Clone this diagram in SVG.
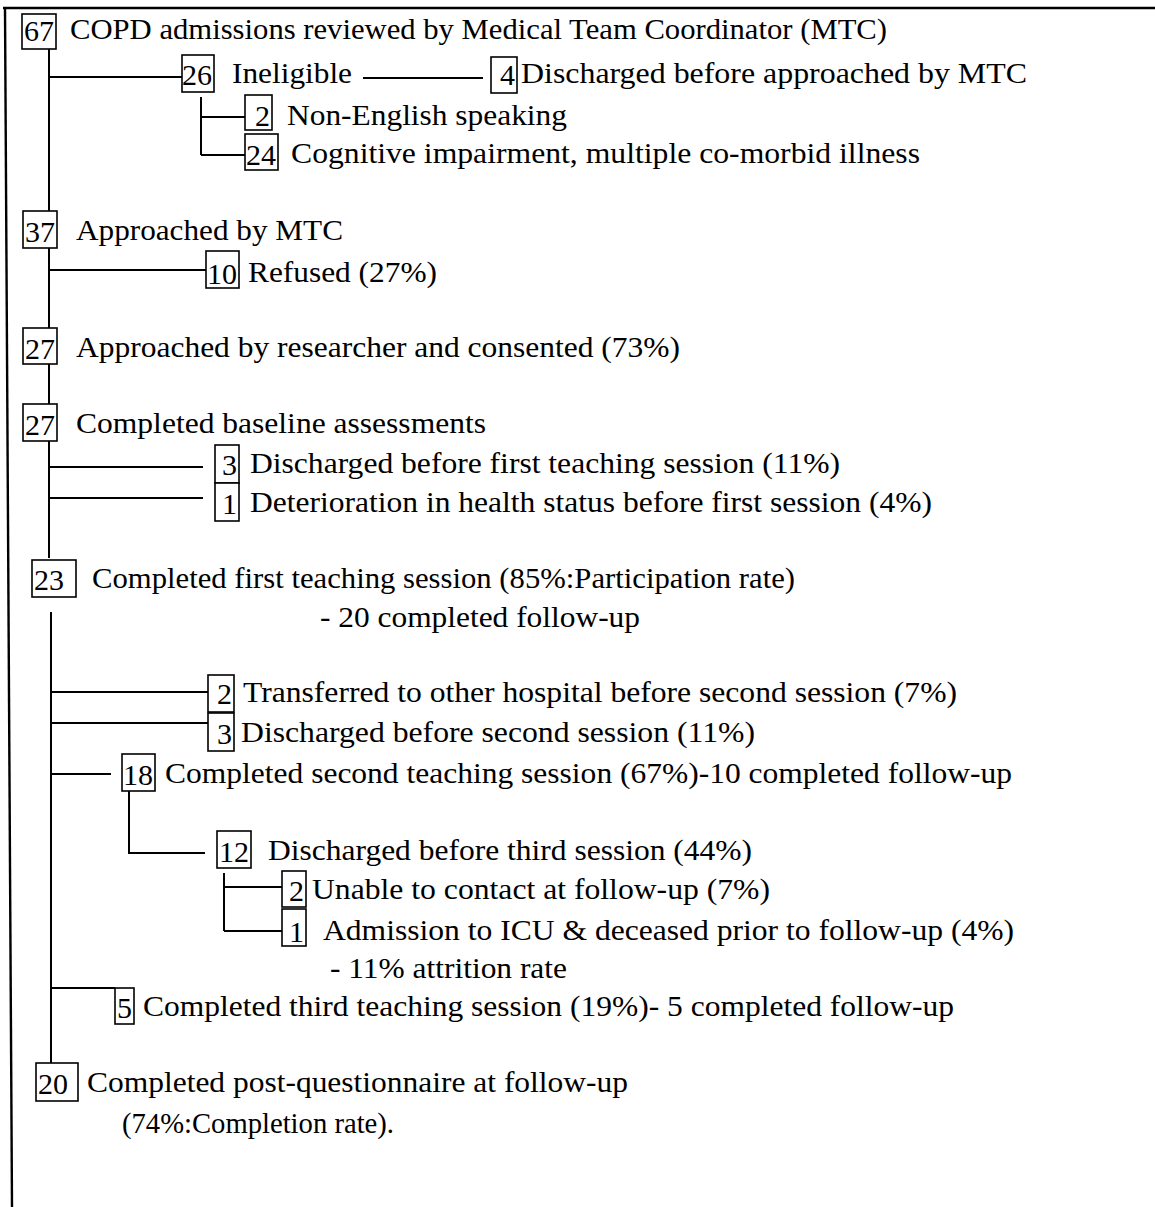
<svg xmlns="http://www.w3.org/2000/svg" width="1155" height="1207" viewBox="0 0 1155 1207">
<style>
.t{font-family:"Liberation Serif","Times New Roman",serif;font-size:30px;fill:#000}
.n{font-family:"Liberation Serif","Times New Roman",serif;font-size:30px;fill:#000;text-anchor:end}
.ns{font-family:"Liberation Serif","Times New Roman",serif;font-size:30px;fill:#000}
.b{fill:#fff;stroke:#000;stroke-width:1.6}
.c{stroke:#000;stroke-width:2;fill:none}
.f{stroke:#000;stroke-width:2.4;fill:none}
</style>
<rect width="1155" height="1207" fill="#fff"/>
<g id="frame">
<line class="f" x1="3" y1="8" x2="1155" y2="8"/>
<line class="f" x1="5" y1="8" x2="12" y2="1207"/>
</g>
<g id="connectors">
<path class="c" d="M49 48V558"/>
<path class="c" d="M49 77H182"/>
<path class="c" d="M49 270H206"/>
<path class="c" d="M49 467H203"/>
<path class="c" d="M49 498H203"/>
<path class="c" d="M201 97V155"/>
<path class="c" d="M201 117H245"/>
<path class="c" d="M201 155H245"/>
<path class="c" d="M363 78H483"/>
<path class="c" d="M51 612V1063"/>
<path class="c" d="M51 692H208"/>
<path class="c" d="M51 723H208"/>
<path class="c" d="M51 774H111"/>
<path class="c" d="M51 988H115"/>
<path class="c" d="M129 791V853H205"/>
<path class="c" d="M224 873V931"/>
<path class="c" d="M224 887H282"/>
<path class="c" d="M224 931H282"/>
</g>
<g id="n67"><rect class="b" x="22" y="14" width="34" height="35"/><text class="n" x="54" y="41">67</text><text class="t" x="70" y="39" textLength="817" lengthAdjust="spacingAndGlyphs">COPD admissions reviewed by Medical Team Coordinator (MTC)</text></g>
<g id="n26"><rect class="b" x="182" y="55" width="32" height="37"/><text class="n" x="212" y="85">26</text><text class="t" x="232" y="83" textLength="120" lengthAdjust="spacingAndGlyphs">Ineligible</text></g>
<g id="n4"><rect class="b" x="491" y="57" width="26" height="36"/><text class="n" x="515" y="85">4</text><text class="t" x="521" y="83" textLength="506" lengthAdjust="spacingAndGlyphs">Discharged before approached by MTC</text></g>
<g id="n2ne"><rect class="b" x="245" y="95" width="27" height="35"/><text class="n" x="270" y="126">2</text><text class="t" x="287" y="125" textLength="280" lengthAdjust="spacingAndGlyphs">Non-English speaking</text></g>
<g id="n24"><rect class="b" x="245" y="134" width="33" height="36"/><text class="n" x="276" y="165">24</text><text class="t" x="291" y="163" textLength="629" lengthAdjust="spacingAndGlyphs">Cognitive impairment, multiple co-morbid illness</text></g>
<g id="n37"><rect class="b" x="23" y="211" width="34" height="37"/><text class="n" x="55" y="242">37</text><text class="t" x="76" y="240" textLength="267" lengthAdjust="spacingAndGlyphs">Approached by MTC</text></g>
<g id="n10"><rect class="b" x="206" y="251" width="33" height="37"/><text class="n" x="237" y="284">10</text><text class="t" x="248" y="282" textLength="189" lengthAdjust="spacingAndGlyphs">Refused (27%)</text></g>
<g id="n27a"><rect class="b" x="23" y="328" width="34" height="36"/><text class="n" x="55" y="359">27</text><text class="t" x="76" y="357" textLength="604" lengthAdjust="spacingAndGlyphs">Approached by researcher and consented (73%)</text></g>
<g id="n27b"><rect class="b" x="23" y="404" width="34" height="37"/><text class="n" x="55" y="435">27</text><text class="t" x="76" y="433" textLength="410" lengthAdjust="spacingAndGlyphs">Completed baseline assessments</text></g>
<g id="n3a"><rect class="b" x="215" y="445" width="24" height="38"/><text class="n" x="237" y="475">3</text><text class="t" x="250" y="473" textLength="590" lengthAdjust="spacingAndGlyphs">Discharged before first teaching session (11%)</text></g>
<g id="n1a"><rect class="b" x="215" y="483" width="24" height="38"/><text class="n" x="237" y="514">1</text><text class="t" x="250" y="512" textLength="682" lengthAdjust="spacingAndGlyphs">Deterioration in health status before first session (4%)</text></g>
<g id="n23"><rect class="b" x="32" y="560" width="44" height="37"/><text class="ns" x="34" y="590">23</text><text class="t" x="92" y="588" textLength="703" lengthAdjust="spacingAndGlyphs">Completed first teaching session (85%:Participation rate)</text><text class="t" x="320" y="627" textLength="320" lengthAdjust="spacingAndGlyphs">- 20 completed follow-up</text></g>
<g id="n2t"><rect class="b" x="208" y="675" width="26" height="37"/><text class="n" x="232" y="704">2</text><text class="t" x="243" y="702" textLength="714" lengthAdjust="spacingAndGlyphs">Transferred to other hospital before second session (7%)</text></g>
<g id="n3d"><rect class="b" x="208" y="713" width="26" height="38"/><text class="n" x="232" y="744">3</text><text class="t" x="241" y="742" textLength="514" lengthAdjust="spacingAndGlyphs">Discharged before second session (11%)</text></g>
<g id="n18"><rect class="b" x="122" y="754" width="33" height="37"/><text class="n" x="153" y="785">18</text><text class="t" x="165" y="783" textLength="847" lengthAdjust="spacingAndGlyphs">Completed second teaching session (67%)-10 completed follow-up</text></g>
<g id="n12"><rect class="b" x="217" y="831" width="34" height="37"/><text class="n" x="249" y="862">12</text><text class="t" x="268" y="860" textLength="484" lengthAdjust="spacingAndGlyphs">Discharged before third session (44%)</text></g>
<g id="n2u"><rect class="b" x="282" y="871" width="24" height="36"/><text class="n" x="304" y="901">2</text><text class="t" x="312" y="899" textLength="458" lengthAdjust="spacingAndGlyphs">Unable to contact at follow-up (7%)</text></g>
<g id="n1u"><rect class="b" x="282" y="909" width="24" height="37"/><text class="n" x="304" y="942">1</text><text class="t" x="323" y="940" textLength="691" lengthAdjust="spacingAndGlyphs">Admission to ICU &amp; deceased prior to follow-up (4%)</text><text class="t" x="330" y="978" textLength="237" lengthAdjust="spacingAndGlyphs">- 11% attrition rate</text></g>
<g id="n5"><rect class="b" x="115" y="988" width="19" height="36"/><text class="n" x="132" y="1018">5</text><text class="t" x="143" y="1016" textLength="811" lengthAdjust="spacingAndGlyphs">Completed third teaching session (19%)- 5 completed follow-up</text></g>
<g id="n20"><rect class="b" x="36" y="1063" width="42" height="38"/><text class="ns" x="38" y="1094">20</text><text class="t" x="87" y="1092" textLength="541" lengthAdjust="spacingAndGlyphs">Completed post-questionnaire at follow-up</text><text class="t" x="122" y="1133" textLength="272" lengthAdjust="spacingAndGlyphs">(74%:Completion rate).</text></g>
</svg>
